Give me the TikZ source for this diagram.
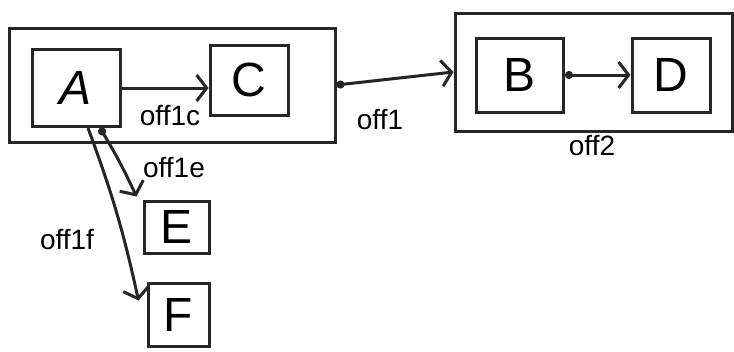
\documentclass[tikz,border=0pt]{standalone}
\usepackage{fontspec}
\setmainfont{Liberation Sans}
\usetikzlibrary{arrows.meta,calc}
\begin{document}
\begin{tikzpicture}[x=1pt,y=-1pt,
  box/.style={draw=black!85,line width=3pt,minimum width=#1,inner sep=0pt},
  letter/.style={font=\fontsize{48}{50}\selectfont},
  lbl/.style={font=\fontsize{28}{30}\selectfont,inner sep=1pt},
  conn/.style={draw=black!85,line width=3pt,-{Straight Barb[length=10pt,width=26pt]}},
  dotconn/.style={draw=black!85,line width=3pt,{Circle[length=8pt]}-{Straight Barb[length=10pt,width=26pt]}}]
\useasboundingbox (0,0) rectangle (734,351);
\fill[white] (0,0) rectangle (734,351);
% containers
\node[box=326pt,minimum height=114pt] (box1) at (172,85) {};
\node[box=277pt,minimum height=118pt] (box2) at (593.5,72) {};
% inner boxes
\node[box=88pt,minimum height=77pt,letter] (A) at (76,88) {\textit{A}};
\node[box=78pt,minimum height=70pt,letter] (C) at (249,80) {C};
\node[box=87pt,minimum height=74pt,letter] (B) at (520,75) {B};
\node[box=78pt,minimum height=74pt,letter] (D) at (671,75) {D};
\node[box=65pt,minimum height=52pt,letter] (E) at (176.5,227) {E};
\node[box=61pt,minimum height=63pt,letter] (F) at (178.5,314.5) {F};
% connectors
\draw[conn] (A.east) -- (C.west |- A.east);
\draw[dotconn] (box1.east) -- (box2.west);
\draw[dotconn] (B.east) -- (D.west);
\coordinate (aE) at ([xshift=24pt]A.south);
\coordinate (aF) at ([xshift=12pt]A.south);
\coordinate (eT) at ([xshift=-6pt,yshift=3pt]E.north west);
\coordinate (fT) at ([xshift=-8pt,yshift=14pt]F.west);
\draw[dotconn] (aE) to[bend left=3] (eT);
\draw[conn] (aF) to[bend left=4] (fT);
% labels
\node[lbl] (l1c) at (170,116) {off1c};
\node[lbl] (l1) at (380,120) {off1};
\node[lbl] (l2) at (592,146) {off2};
\node[lbl] (l1e) at (174,168) {off1e};
\node[lbl] (l1f) at (67,240) {off1f};
\end{tikzpicture}
\end{document}
